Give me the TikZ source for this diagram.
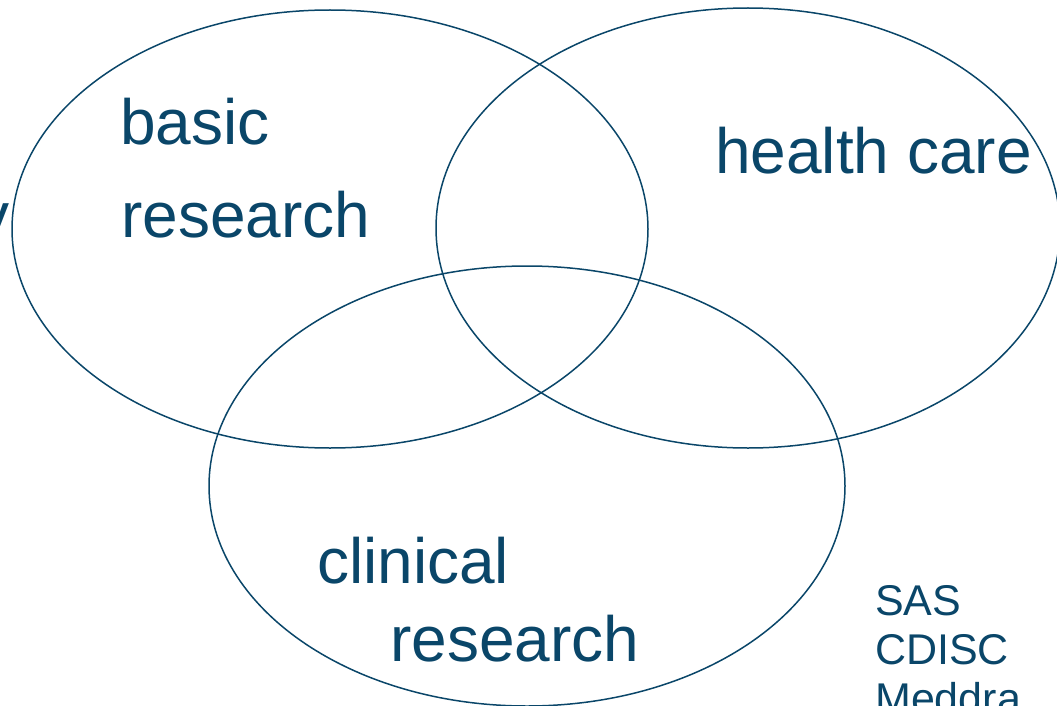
\documentclass[tikz,border=0pt]{standalone}
\usepackage{fontspec}
\setmainfont{Liberation Sans}
\usepackage{xcolor}
\definecolor{vennblue}{RGB}{10,70,105}

\begin{document}
\begin{tikzpicture}[x=1pt,y=-1pt,
    ring/.style={draw=vennblue,line width=1.5pt},
    big/.style={text=vennblue,inner sep=0pt,anchor=base west,font=\fontsize{64}{76}\selectfont},
    small/.style={text=vennblue,inner sep=0pt,anchor=base west,font=\fontsize{43}{49}\selectfont}]
    % Frame
    \clip (0,0) rectangle (1057,706);

    % Circles
    \draw[ring] (330,229) ellipse [x radius=318, y radius=219];
    \draw[ring] (748,228) ellipse [x radius=312, y radius=220];
    \draw[ring] (527,486) ellipse [x radius=318, y radius=220];

    % Labels
    \node[big] (basic1) at (120,145) {basic};
    \node[big] (basic2) at (121,237) {research};
    \node[big] (health) at (715,173) {health care};
    \node[big] (clin1) at (317,583) {clinical};
    \node[big] (clin2) at (390,661) {research};
    \node[big,anchor=base east] (cut) at (10,237) {y};

    % Tools
    \node[small] (sas) at (875,615) {SAS};
    \node[small] (cdisc) at (875,664) {CDISC};
    \node[small] (meddra) at (875,713) {Meddra};
\end{tikzpicture}
\end{document}
